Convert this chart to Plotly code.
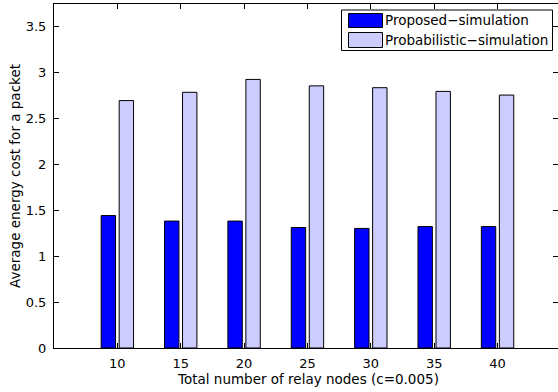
import plotly.graph_objects as go

# Relay-node counts and average energy cost per packet
relay_nodes = [10, 15, 20, 25, 30, 35, 40]
proposed_sim = [1.44, 1.38, 1.38, 1.31, 1.30, 1.32, 1.32]
probabilistic_sim = [2.69, 2.78, 2.92, 2.85, 2.83, 2.79, 2.75]
series_names = ["Proposed\u2212simulation", "Probabilistic\u2212simulation"]
y_ticks = [0, 0.5, 1, 1.5, 2, 2.5, 3, 3.5]
y_tick_text = ["0", "0.5", "1", "1.5", "2", "2.5", "3", "3.5"]
x_title = "Total number of relay nodes (c=0.005)"
y_title = "Average energy cost for a packet"

BLUE = "rgb(0,0,255)"
LIGHT = "rgb(204,204,255)"
TICK_FONT = dict(family="DejaVu Sans", size=13, color="black")
TEXT_FONT = dict(family="DejaVu Sans", size=13.5, color="black")

W, H = 558, 392
ML, MR, MT, MB = 54, 0, 4, 44

fig = go.Figure()
fig.add_trace(go.Bar(x=relay_nodes, y=proposed_sim, name=series_names[0],
                     marker=dict(color=BLUE, line=dict(color="black", width=1)),
                     showlegend=False))
fig.add_trace(go.Bar(x=relay_nodes, y=probabilistic_sim, name=series_names[1],
                     marker=dict(color=LIGHT, line=dict(color="black", width=1)),
                     showlegend=False))
# carrier for the right-hand tick marks
fig.add_trace(go.Scatter(x=[], y=[], yaxis="y2", showlegend=False, hoverinfo="skip"))

fig.update_layout(
    width=W, height=H,
    margin=dict(l=ML, r=MR, t=MT, b=MB, autoexpand=False),
    paper_bgcolor="white", plot_bgcolor="white",
    font=TICK_FONT,
    barmode="group", bargap=0.432, bargroupgap=0.2,
    xaxis=dict(range=[5, 44.77], tickmode="array", tickvals=relay_nodes,
               ticktext=[str(v) for v in relay_nodes],
               ticks="inside", ticklen=5, tickwidth=1, tickcolor="black",
               showline=True, linecolor="black", linewidth=1, mirror="ticks",
               showgrid=False, zeroline=False, tickfont=TICK_FONT,
               ticklabelstandoff=3),
    yaxis=dict(range=[0, 3.74], tickmode="array", tickvals=y_ticks, ticktext=y_tick_text,
               ticks="inside", ticklen=5, tickwidth=1, tickcolor="black",
               showline=True, linecolor="black", linewidth=1, mirror=False,
               showgrid=False, zeroline=False, tickfont=TICK_FONT,
               title=dict(text=y_title, standoff=1, font=TEXT_FONT),
               ticklabelstandoff=4),
    yaxis2=dict(range=[0, 3.74], overlaying="y", side="right", tickmode="array",
                tickvals=y_ticks, ticks="inside", ticklen=5, tickwidth=1,
                tickcolor="black", showticklabels=False, showline=False,
                showgrid=False, zeroline=False),
)

# Pixel-to-paper helpers for the annotations and legend box
pw, ph = W - ML - MR, H - MT - MB
def px(x):
    return (x - ML) / pw
def py(y):
    return (H - MB - y) / ph

# x-axis title, centred on the full axes width
fig.add_annotation(x=px(307.7), y=py(378.5), xref="paper", yref="paper",
                   text=x_title, showarrow=False, xanchor="center", yanchor="middle",
                   font=TEXT_FONT)

# Legend
shapes = [dict(type="rect", xref="paper", yref="paper",
               x0=px(341.5), x1=px(552.5), y0=py(50.5), y1=py(10),
               line=dict(color="black", width=1), fillcolor="white", layer="above")]
rows = [(series_names[0], BLUE, 13.5, 27.5), (series_names[1], LIGHT, 32.5, 47.5)]
for name, col, y0, y1 in rows:
    shapes.append(dict(type="rect", xref="paper", yref="paper",
                       x0=px(348.5), x1=px(382.5), y0=py(y1), y1=py(y0),
                       line=dict(color="black", width=1), fillcolor=col, layer="above"))
    fig.add_annotation(x=px(383), y=py((y0 + y1) / 2), xref="paper", yref="paper",
                       text=name, showarrow=False, xanchor="left", yanchor="middle",
                       font=TEXT_FONT)
fig.update_layout(shapes=shapes)

fig.write_html("out.html")
